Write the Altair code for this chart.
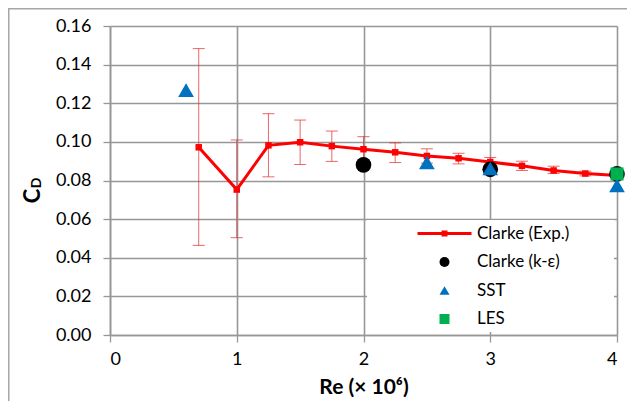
import altair as alt
import pandas as pd

# ---- data ----
exp_re = [0.7, 1.0, 1.25, 1.5, 1.75, 2.0, 2.25, 2.5, 2.75, 3.0, 3.25, 3.5, 3.75, 4.0]
exp_cd = [0.0972, 0.0753, 0.0982, 0.0998, 0.0978, 0.0962, 0.0946, 0.0927, 0.0915, 0.0896, 0.0876, 0.0852, 0.0836, 0.0826]
exp_hi = [0.1483, 0.1010, 0.1146, 0.1113, 0.1056, 0.1027, 0.0995, 0.0964, 0.0941, 0.0919, 0.0900, 0.0874, 0.0848, 0.0830]
exp_lo = [0.0464, 0.0504, 0.0819, 0.0883, 0.0899, 0.0897, 0.0893, 0.0890, 0.0886, 0.0873, 0.0852, 0.0836, 0.0824, 0.0822]

ke_re = [2.0, 3.0, 4.0]
ke_cd = [0.0881, 0.0858, 0.0834]

sst_re = [0.6, 2.5, 3.0, 4.0]
sst_cd = [0.1268, 0.0893, 0.0862, 0.0774]

les_re = [4.0]
les_cd = [0.0834]

series_names = ["Clarke (Exp.)", "Clarke (k-ε)", "SST", "LES"]
series_colors = ["#FF0000", "#000000", "#0070C0", "#00B050"]
x_ticks = [0, 1, 2, 3, 4]
y_ticks = [0.0, 0.02, 0.04, 0.06, 0.08, 0.10, 0.12, 0.14, 0.16]

FONT = "Lato"
GRID = "#979797"

exp_df = pd.DataFrame({"re": exp_re, "cd": exp_cd, "hi": exp_hi, "lo": exp_lo})
pts_df = pd.DataFrame({
    "re": ke_re + sst_re,
    "cd": ke_cd + sst_cd,
    "series": [series_names[1]] * len(ke_re) + [series_names[2]] * len(sst_re),
})
les_df = pd.DataFrame({"re": les_re, "cd": les_cd})

xs = alt.Scale(domain=[0, 4], nice=False, zero=False)
ys = alt.Scale(domain=[0, 0.16], nice=False)

xaxis = alt.Axis(values=x_ticks, format="d", title="Re (× 10⁶)", grid=True,
                 tickSize=7, labelPadding=8, titlePadding=8)
yaxis = alt.Axis(values=y_ticks, format=".2f", title=None, grid=True,
                 tickSize=7, labelPadding=12)


def X(field="re"):
    return alt.X(f"{field}:Q", scale=xs, axis=xaxis)


def Y(field):
    return alt.Y(f"{field}:Q", scale=ys, axis=yaxis)


# chart border (decoration)
border = alt.Chart(alt.Data(values=[{}])).mark_rect(
    fill=None, stroke="#A6A6A6", strokeWidth=1.5, clip=False
).encode(x=alt.value(-101.25), x2=alt.value(700), y=alt.value(-17.25), y2=alt.value(600))

err = alt.Chart(exp_df).mark_rule(color="#E02828", opacity=0.7, strokeWidth=1).encode(
    x=X(), y=Y("lo"), y2="hi:Q")
cap_hi = alt.Chart(exp_df).mark_tick(orient="horizontal", size=12, thickness=1,
                                     color="#E02828", opacity=0.7).encode(x=X(), y=Y("hi"))
cap_lo = alt.Chart(exp_df).mark_tick(orient="horizontal", size=12, thickness=1,
                                     color="#E02828", opacity=0.7).encode(x=X(), y=Y("lo"))

line = alt.Chart(exp_df).mark_line(color="#FF0000", strokeWidth=3).encode(x=X(), y=Y("cd"))
sq = alt.Chart(exp_df).mark_point(shape="square", filled=True, size=42, color="#FF0000",
                                  opacity=1).encode(x=X(), y=Y("cd"))

# white legend background (decoration)
legend_bg = alt.Chart(alt.Data(values=[{}])).mark_rect(fill="white").encode(
    x=alt.value(257), x2=alt.value(504), y=alt.value(194), y2=alt.value(306))

exp_symbol = "M-5.4,-0.3H5.4V0.3H-5.4Z M-0.6,-0.6H0.6V0.6H-0.6Z"
leg = alt.Legend(orient="none", legendX=326, legendY=199, title=None, symbolSize=100,
                 labelFontSize=17, labelFont=FONT, labelOffset=24, rowPadding=10.5,
                 padding=0, symbolStrokeWidth=0, labelColor="black")

pts = alt.Chart(pts_df).mark_point(filled=True, size=246, opacity=1).encode(
    x=X(), y=Y("cd"),
    color=alt.Color("series:N", scale=alt.Scale(domain=series_names, range=series_colors), legend=leg),
    shape=alt.Shape("series:N", scale=alt.Scale(domain=series_names,
                                                range=[exp_symbol, "circle", "triangle-up", "square"]),
                    legend=leg),
)

les = alt.Chart(les_df).mark_point(shape="square", filled=True, size=170, color="#00B050",
                                   opacity=1).encode(x=X(), y=Y("cd"))

c_title = alt.Chart(alt.Data(values=[{}])).mark_text(
    text="C", angle=270, font=FONT, fontSize=22, fontWeight="bold", color="black"
).encode(x=alt.value(-77), y=alt.value(170))
d_title = alt.Chart(alt.Data(values=[{}])).mark_text(
    text="D", angle=270, font=FONT, fontSize=14, fontWeight="bold", color="black"
).encode(x=alt.value(-73), y=alt.value(157))

chart = alt.layer(
    border, err, cap_hi, cap_lo, line, sq, legend_bg, pts, les, c_title, d_title
).properties(
    width=507, height=309, autosize="none",
    padding={"left": 102, "top": 18, "right": 10, "bottom": 66},
    background="white",
).configure_view(stroke=None).configure_axis(
    gridColor=GRID, gridWidth=1.6, gridOpacity=1, domainColor=GRID, domainWidth=1.6,
    tickColor=GRID, tickWidth=1.3, labelFont=FONT, labelFontSize=18, labelColor="black",
    titleFont=FONT, titleFontSize=21, titleFontWeight="bold", titleColor="black",
)

chart.save("out.html", embed_options={"renderer": "svg", "actions": False})
